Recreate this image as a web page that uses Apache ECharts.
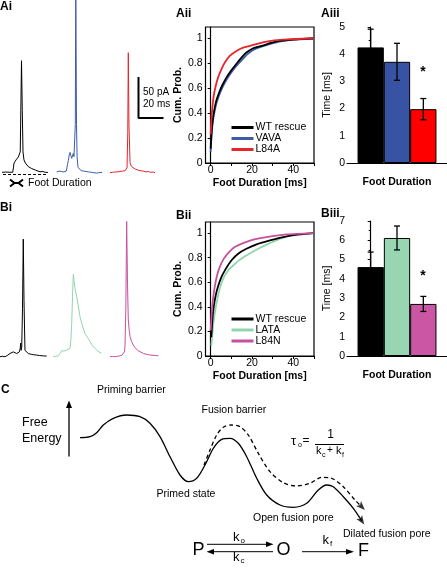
<!DOCTYPE html>
<html><head><meta charset="utf-8">
<script src="https://cdn.jsdelivr.net/npm/echarts@6/dist/echarts.min.js"></script>
<style>html,body{margin:0;padding:0;background:#fff}#c{width:447px;height:571px}</style>
</head><body><div id="c"></div>
<script>
// ---------- DATA ----------
// Amperometric traces [time ms, current pA]
const aiWT = [[0,0.5],[1.5,-0.5],[3,0.8],[4.5,0],[6,0.6],[7.5,-0.3],[8.9,0.5],[9.5,6],[10,12],[11,14],[11.7,16],[12.7,17],[13.6,19.6],[14.5,21],[15.2,26],[15.8,91],[16.25,140],[16.9,78],[17.5,26],[18.3,16],[19.5,12],[20.6,9.6],[22,7.5],[23.3,6.5],[24.7,5.2],[26.1,4.6],[28,3.2],[30,2],[31.7,1.2],[34,1.5],[36,0.5],[38.3,0.3]];
const aiVAVA = [[0,1],[1,-1],[2,2],[3,0],[4,1.5],[5,-0.5],[6,1],[7,0],[8,2],[8.3,4.6],[9,10],[9.7,15],[10.4,22],[11.1,25.4],[11.9,21],[12.5,18],[13,19],[13.8,24],[14.4,20],[15,17.5],[15.5,60],[15.9,240],[16.5,60],[17,20],[17.75,6.6],[18.5,5],[19.4,4.6],[20.5,2.5],[21.5,4],[22.5,2],[23.5,3.5],[24.5,1.5],[25.5,3],[26.5,1],[27.75,2.5],[29,0.5],[30,2],[31,0],[32,1.5],[33,-0.5],[34,1],[35,0],[36,1.2],[37.75,0.3]];
const aiL84A = [[0,0],[1,-0.8],[2,0.5],[3,-0.5],[4,0.8],[5,0],[6,1],[7,0.5],[8.3,1.5],[9.5,0.8],[10.5,2],[11.5,1.5],[12.5,2.5],[13.5,3.5],[14.2,6],[14.8,50],[15.25,150],[15.8,60],[16.7,12.5],[17.8,8],[19.4,6.2],[21,4.5],[23,3.5],[25,2.5],[27.75,2],[30,1],[32,1.5],[34,0.5],[36,0.8],[37.5,0]];
const biWT = [[0,0],[2,0.5],[4.2,0],[6,1.5],[8.3,4],[9.5,3],[11.1,6],[12.5,4.5],[13.9,4],[15,5],[16.1,6],[16.8,10],[17.25,17],[17.6,8],[18.1,12],[18.75,60],[19.4,147],[20,70],[20.8,8],[22,5.5],[23.6,4],[26,3],[28,2.5],[30.6,2],[33,1.5],[36,1],[38.9,0.8]];
const biLATA = [[0,0],[2,0.3],[4,1],[5.6,4],[7,7.5],[9,7],[11.2,8.4],[12.5,9],[13.9,10.5],[14.6,20],[15.3,40],[16,75],[16.7,103],[17.3,95],[18.1,85],[19.5,75],[21,62],[22.25,50],[24,40],[26.4,29],[28.5,24],[30.6,19],[32.5,14],[34.75,10.5],[37,7],[40.3,4.2]];
const biL84N = [[0,0],[2,0.3],[4,0],[6,0.5],[8.3,1],[10,2],[11.1,4],[12,6],[12.5,14],[13.2,60],[13.9,169],[14.6,90],[15.25,46],[16,33],[16.7,25],[18,19],[19.4,14.6],[21,11],[23,8],[25,6.2],[28,4],[31.9,2.5],[35,1.8],[38,1.4],[40.25,1.2]];
const scaleBarPA = 50;
const scaleBarMS = 20;

// Cumulative probability of foot duration [ms, prob]
const aiiWT = [[0,0.115],[0.49,0.255],[1.13,0.362],[1.94,0.442],[2.75,0.501],[4.05,0.563],[5.67,0.625],[7.6,0.684],[10,0.743],[12.5,0.796],[14.9,0.845],[17.3,0.885],[20.6,0.92],[24.6,0.938],[28.7,0.96],[33.5,0.979],[40,0.989],[49.7,1.0]];
const aiiVAVA = [[0,0.09],[0.5,0.24],[1.2,0.35],[2.1,0.43],[3,0.49],[4.4,0.555],[6.1,0.62],[8.1,0.68],[10.6,0.74],[13.1,0.79],[15.6,0.835],[18,0.875],[21,0.91],[25,0.935],[29,0.955],[34,0.975],[40,0.988],[49.7,0.995]];
const aiiL84A = [[0,0.228],[0.32,0.335],[0.81,0.442],[1.46,0.536],[2.43,0.617],[3.56,0.684],[5.18,0.751],[6.8,0.804],[9.23,0.858],[12.47,0.898],[15.7,0.925],[20.6,0.946],[27,0.973],[35.1,0.989],[49.7,1.0]];
const biiWT = [[0.32,0.152],[0.81,0.288],[1.46,0.397],[2.43,0.492],[3.56,0.565],[5.18,0.641],[7.3,0.709],[10,0.777],[13.3,0.832],[17.3,0.872],[22.2,0.908],[28.7,0.94],[36.8,0.973],[43.2,0.989],[49.7,1.0]];
const biiLATA = [[0.32,0.084],[1.13,0.234],[1.94,0.342],[3.08,0.451],[4.37,0.546],[6,0.628],[8.4,0.696],[10.85,0.736],[14.1,0.783],[18.1,0.826],[23,0.872],[28.7,0.918],[35.1,0.962],[41.6,0.989],[49.7,1.0]];
const biiL84N = [[0,0.207],[0.49,0.342],[1.13,0.465],[1.94,0.56],[3.08,0.655],[4.37,0.723],[6.3,0.79],[8.9,0.845],[11.66,0.886],[15.7,0.918],[20.6,0.946],[27,0.967],[36.8,0.989],[49.7,1.0]];
const cdfXTicks = [0,10,20,30,40,50];
const cdfXLabels = [0,20,40];
const cdfYTicks = [0,0.2,0.4,0.6,0.8,1];

// Mean foot duration [ms] and SEM
const groupsA = ['WT rescue','VAVA','L84A'];
const meansA = [4.25,3.72,1.98];
const semA = [0.67,0.68,0.39];
const groupsB = ['WT rescue','LATA','L84N'];
const meansB = [4.61,6.12,2.70];
const semB = [0.78,0.62,0.39];

// Free-energy landscape [reaction coordinate, free energy]
const energyWT = [[80,133.3],[90,134.3],[96.7,138.3],[103.3,146],[113.3,152.7],[126.7,156],[140,154.3],[150,147.7],[160,134.3],[170,114.3],[180,96],[188.3,89.3],[196.7,92.7],[205,106],[213.3,122.7],[221.7,131.7],[230,132.7],[238.3,127.7],[246.7,114.3],[256.7,92.7],[266.7,76],[280,66],[293.3,63.7],[306.7,67.7],[318.3,81],[326.7,86],[333.3,84.3],[343.3,74.3],[353.3,62.7],[361.7,50.3]];
const energyMut = [[204,106],[210,121],[216.7,136],[223.3,143.7],[231.7,146],[240,144.3],[248.3,136],[258.3,117.7],[270,99.3],[283.3,88.3],[296.7,85],[310,87.7],[321.7,93.7],[331.7,92.7],[343.3,84.3],[355,71],[361.7,64.3]];

// ---------- STYLE ----------
const FF = 'Liberation Sans, Arial, sans-serif';
const col = {wt:'#000000', vava:'#3d5ba9', l84a:'#e5262c', lata:'#93d4af', l84n:'#c8509e'};
const barCol = {wt:'#000000', vava:'#3953a4', l84a:'#ff0000', lata:'#98d5b3', l84n:'#cb57a4'};
const PXMS = 1.2, PXPA = 0.8;

const grids = [], xAxes = [], yAxes = [], series = [];
function addGrid(g, x, y){ grids.push(g); const i = grids.length-1; xAxes.push(Object.assign({gridIndex:i}, x)); yAxes.push(Object.assign({gridIndex:i}, y)); return i; }

// trace grids
function traceGrid(left, top, height){
  return addGrid({left:left, top:top, width:42*PXMS, height:height},
    {type:'value', show:false, min:0, max:42},
    {type:'value', show:false, min:-5, max:height/PXPA-5});
}
function traceSeries(gi, data, color){
  series.push({type:'line', xAxisIndex:gi, yAxisIndex:gi, data:data, showSymbol:false, silent:true, clip:true, lineStyle:{width:1, color:color}, animation:false});
}
traceSeries(traceGrid(2, 0, 176.7), aiWT, col.wt);
traceSeries(traceGrid(56.7, 0, 176.7), aiVAVA, col.vava);
traceSeries(traceGrid(110, 0, 176.7), aiL84A, col.l84a);
traceSeries(traceGrid(0, 200, 160.7), biWT, col.wt);
traceSeries(traceGrid(53.3, 200, 160.7), biLATA, col.lata);
traceSeries(traceGrid(110, 200, 160.7), biL84N, col.l84n);

// scale bar
const sb = addGrid({left:138.5, top:78, width:scaleBarMS*PXMS, height:scaleBarPA*PXPA},
  {type:'value', show:false, min:0, max:scaleBarMS}, {type:'value', show:false, min:0, max:scaleBarPA});
series.push({type:'line', xAxisIndex:sb, yAxisIndex:sb, data:[[0,scaleBarPA],[0,0],[scaleBarMS,0]], showSymbol:false, silent:true, clip:false, lineStyle:{width:2, color:'#000', cap:'square'}});

// CDF panels
function cdfGrid(top, height){
  return addGrid({left:205.5, top:top, width:108.5, height:height, show:true, borderColor:'#000', borderWidth:1.2},
    {type:'value', min:-2.5, max:50, axisLine:{lineStyle:{color:'#000', width:1.2}},
     axisTick:{customValues:cdfXTicks, length:3, lineStyle:{color:'#000'}},
     axisLabel:{customValues:cdfXLabels, fontSize:10.5, color:'#000', margin:2, fontFamily:FF},
     splitLine:{show:false}, name:'Foot Duration [ms]', nameLocation:'middle', nameGap:15,
     nameTextStyle:{fontWeight:'bold', fontSize:10.5, color:'#000', fontFamily:FF}},
    {type:'value', min:0, max:1.09, axisLine:{show:true, lineStyle:{color:'#000', width:1.2}},
     axisTick:{customValues:cdfYTicks, length:3, lineStyle:{color:'#000'}},
     axisLabel:{customValues:cdfYTicks, fontSize:10.5, color:'#000', margin:3, fontFamily:FF},
     splitLine:{show:false}, name:'Cum. Prob.', nameLocation:'middle', nameGap:20,
     nameTextStyle:{fontWeight:'bold', fontSize:10.5, color:'#000', fontFamily:FF}});
}
function cdfSeries(gi, name, data, color){
  series.push({type:'line', name:name, xAxisIndex:gi, yAxisIndex:gi, data:data, showSymbol:false, smooth:0.2, lineStyle:{width:1.8, color:color}, itemStyle:{color:color}});
}
const gA2 = cdfGrid(27, 136);
cdfSeries(gA2, 'VAVA', aiiVAVA, col.vava);
cdfSeries(gA2, 'WT rescue', aiiWT, col.wt);
cdfSeries(gA2, 'L84A', aiiL84A, col.l84a);
const gB2 = cdfGrid(222, 134);
cdfSeries(gB2, 'LATA', biiLATA, col.lata);
cdfSeries(gB2, 'WT rescue', biiWT, col.wt);
cdfSeries(gB2, 'L84N', biiL84N, col.l84n);

// bar panels
function barGrid(top, height, ymax){
  return addGrid({left:347, top:top, width:100, height:height},
    {type:'value', min:-0.9, max:2.9, axisLine:{lineStyle:{color:'#000', width:1.2}},
     axisTick:{customValues:[2.9], length:3, lineStyle:{color:'#000'}}, axisLabel:{show:false}, splitLine:{show:false},
     name:'Foot Duration', nameLocation:'middle', nameGap:14,
     nameTextStyle:{fontWeight:'bold', fontSize:10.5, color:'#000', fontFamily:FF}},
    {type:'value', min:0, max:ymax, interval:1, axisLine:{show:true, lineStyle:{color:'#000', width:1.2}},
     axisTick:{length:3, lineStyle:{color:'#000'}}, minorTick:{show:true, splitNumber:2, length:2, lineStyle:{color:'#000'}},
     axisLabel:{fontSize:10.5, color:'#000', margin:2, fontFamily:FF}, splitLine:{show:false},
     name:'Time [ms]', nameLocation:'middle', nameGap:14,
     nameTextStyle:{fontSize:10.5, color:'#000', fontFamily:FF}});
}
function barSeries(gi, means, sems, colors){
  series.push({type:'bar', xAxisIndex:gi, yAxisIndex:gi, barWidth:26.3, silent:true,
    data: means.map((m,i)=>({value:[i,m], itemStyle:{color:colors[i], borderColor:'#000', borderWidth:1}}))});
  series.push({type:'custom', xAxisIndex:gi, yAxisIndex:gi, silent:true, z:5,
    data: means.map((m,i)=>[i, m-sems[i], m+sems[i]]),
    renderItem:function(p, api){
      const hi = api.coord([api.value(0), api.value(2)]);
      const lo = api.coord([api.value(0), api.value(1)]);
      const w = 3, st = {stroke:'#000', lineWidth:1.3};
      return {type:'group', children:[
        {type:'line', shape:{x1:hi[0], y1:hi[1], x2:lo[0], y2:lo[1]}, style:st},
        {type:'line', shape:{x1:hi[0]-w, y1:hi[1], x2:hi[0]+w, y2:hi[1]}, style:st},
        {type:'line', shape:{x1:lo[0]-w, y1:lo[1], x2:lo[0]+w, y2:lo[1]}, style:st}]};
    }});
}
barSeries(barGrid(27, 136, 5), meansA, semA, [barCol.wt, barCol.vava, barCol.l84a]);
barSeries(barGrid(221, 135, 7), meansB, semB, [barCol.wt, barCol.lata, barCol.l84n]);

// energy landscape
const gC = addGrid({left:0, top:400, width:447, height:171},
  {type:'value', show:false, min:0, max:447}, {type:'value', show:false, min:0, max:171});
series.push({type:'line', xAxisIndex:gC, yAxisIndex:gC, data:energyWT, smooth:0.3, showSymbol:false, silent:true, lineStyle:{width:1.3, color:'#000'}});
series.push({type:'line', xAxisIndex:gC, yAxisIndex:gC, data:energyMut, smooth:0.3, showSymbol:false, silent:true, lineStyle:{width:1.3, color:'#000', type:[4,3]}});
function arrowRot(pts){ const a=pts[pts.length-2], b=pts[pts.length-1]; return -Math.atan2(b[0]-a[0], b[1]-a[1])*180/Math.PI; }
[energyWT, energyMut].forEach(pts=>{
  series.push({type:'scatter', xAxisIndex:gC, yAxisIndex:gC, silent:true, data:[pts[pts.length-1]],
    symbol:'path://M5,0L10,12L5,9L0,12Z', symbolSize:[7,9], symbolRotate:arrowRot(pts), itemStyle:{color:'#000'}});
});

// ---------- ANNOTATIONS ----------
const G = [];
function T(text, x, y, size, opts){ opts = opts||{}; G.push({type:'text', x:x, y:y, silent:true, style:{text:text, font:(opts.bold?'bold ':'')+size+'px '+FF, fill:'#000', align:opts.align||'left', verticalAlign:'middle'}}); }
function L(x1,y1,x2,y2,w,dash){ G.push({type:'line', silent:true, shape:{x1,y1,x2,y2}, style:{stroke:'#000', lineWidth:w||1, lineDash:dash||null}}); }
function P(points){ G.push({type:'polygon', silent:true, shape:{points:points}, style:{fill:'#000'}}); }
function PL(points,w){ G.push({type:'polyline', silent:true, shape:{points:points}, style:{stroke:'#000', lineWidth:w||1, fill:null}}); }

T('Ai',0,6.5,12,{bold:true}); T('Aii',176,14,12,{bold:true}); T('Aiii',321,14,12,{bold:true});
T('Bi',0,207.5,12,{bold:true}); T('Bii',176,216,12,{bold:true}); T('Biii',321,214,12,{bold:true});
T('C',1,390,12,{bold:true});
T('50 pA',143,92.5,10); T('20 ms',143,104.5,10);
L(3,174.5,48,174.5,1,[3,2]);
PL([[10,179.5],[14.5,183],[10,186.5]],2); PL([[23,179.5],[18.5,183],[23,186.5]],2); L(14.5,183,18.5,183,2);
T('Foot Duration',28,183.5,10.5);
T('*',423,72,14,{bold:true,align:'center'}); T('*',423,276,14,{bold:true,align:'center'});
// panel C
T('Priming barrier',97,390,10.5);
T('Free',22,423,12.5); T('Energy',22,439,12.5);
L(69,456.5,69,406,1.3); P([[66,408],[69,400.5],[72,408]]);
T('Fusion barrier',201.5,410,10.5);
T('Primed state',156.5,494.5,10.5);
T('Open fusion pore',253,518.5,10.5);
T('Dilated fusion pore',343,534.5,10.5);
T('τ',291,441,13); T('o',298,445.5,7); T('=',302.5,440.5,12);
L(315,444.5,344,444.5,1); T('1',330.5,435,12,{align:'center'});
T('k',316,451,11); T('c',322,455.5,7); T('+',327,450.5,10); T('k',336,451,11); T('f',342,455.5,7);
T('P',192.5,550.5,18); T('O',276.5,550.5,18); T('F',358,551,18);
L(207,544.3,268,544.3,1); P([[266,541.5],[273.5,544.3],[266,547]]);
L(212,551.7,273,551.7,1); P([[214,549],[206.5,551.7],[214,554.5]]);
L(302,551.7,348,551.7,1); P([[346,549],[354,551.7],[346,554.5]]);
T('k',233,537.5,13); T('o',240.5,541,8);
T('k',233,557.5,13); T('c',240.5,561,8);
T('k',322.5,540,13); T('f',330,543.5,8);

const legendBase = {orient:'vertical', icon:'rect', itemWidth:22, itemHeight:3, itemGap:0, padding:0,
  textStyle:{fontSize:10.5, color:'#000', fontFamily:FF, lineHeight:9.3, padding:[0,0,0,-3]}, selectedMode:false};

const chart = echarts.init(document.getElementById('c'), null, {renderer:'canvas'});
chart.setOption({
  animation:false,
  backgroundColor:'#fff',
  textStyle:{fontFamily:FF},
  grid:grids, xAxis:xAxes, yAxis:yAxes, series:series,
  legend:[Object.assign({left:231.5, top:122, data:['WT rescue','VAVA','L84A']}, legendBase),
          Object.assign({left:231.5, top:313.5, data:['WT rescue','LATA','L84N']}, legendBase)],
  graphic:G
});
</script>
</body></html>
